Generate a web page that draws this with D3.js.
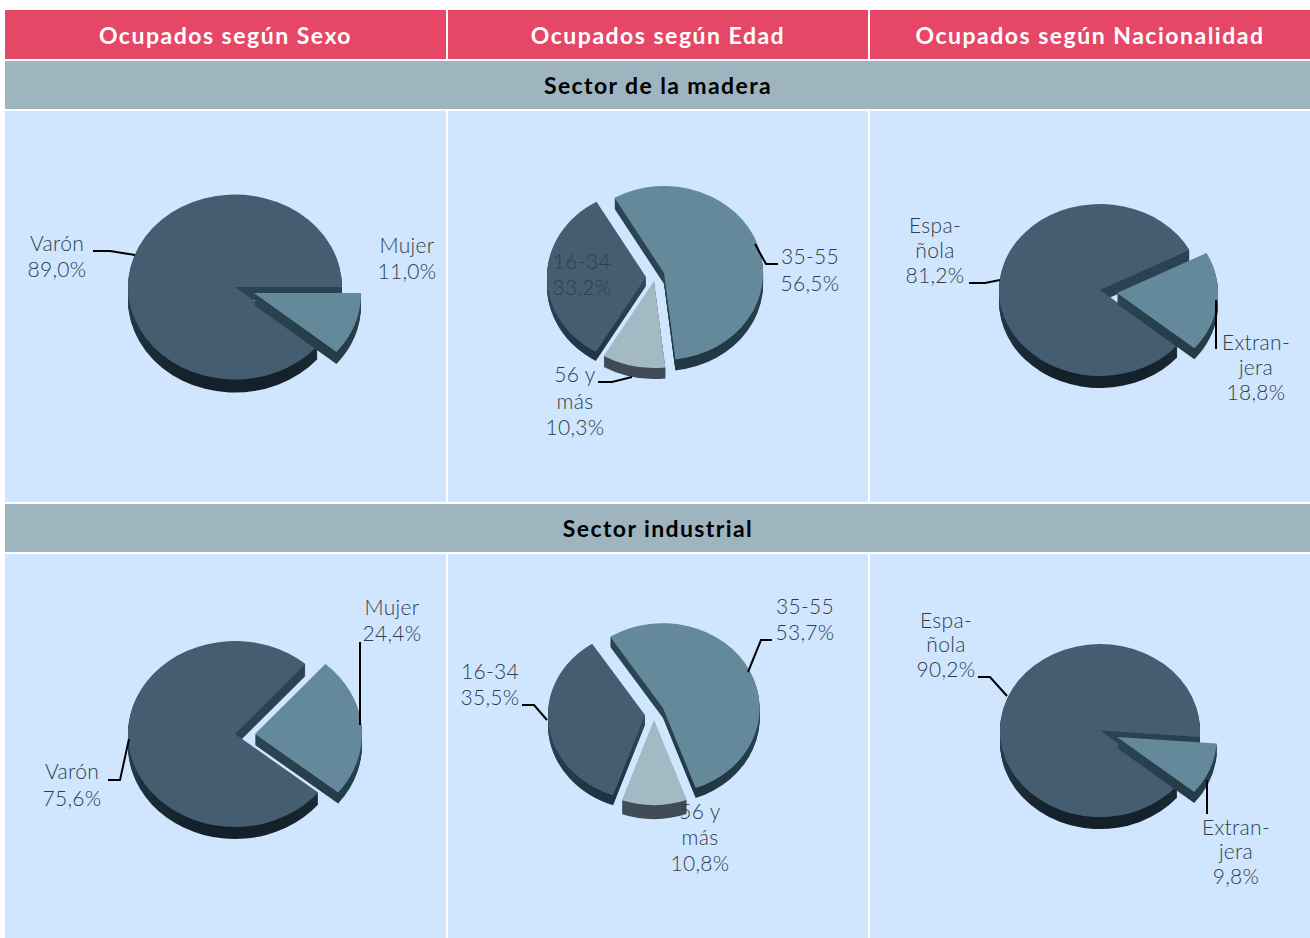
<!DOCTYPE html>
<html>
<head>
<meta charset="utf-8">
<script src="https://cdnjs.cloudflare.com/ajax/libs/d3/7.8.5/d3.min.js"></script>
<style>
  body { margin: 0; background: #fff; }
  text { font-family: Lato, "Open Sans", sans-serif; }
</style>
</head>
<body>
<div id="graphic"></div>
<script>
// column and row titles
var columnTitles = ["Ocupados según Sexo", "Ocupados según Edad", "Ocupados según Nacionalidad"];
var sectorTitles = ["Sector de la madera", "Sector industrial"];

// categories, each name split the way the labels wrap
var sexoNames = [["Varón"], ["Mujer"]];
var edadNames = [["35-55"], ["56 y", "más"], ["16-34"]];
var nacionalidadNames = [["Espa-", "ñola"], ["Extran-", "jera"]];

// values (%)
var sexoMadera = [89.0, 11.0];
var edadMadera = [56.5, 10.3, 33.2];
var nacionalidadMadera = [81.2, 18.8];
var sexoIndustria = [75.6, 24.4];
var edadIndustria = [53.7, 10.8, 35.5];
var nacionalidadIndustria = [90.2, 9.8];

// colours by role, side goes from the level of the centre to the rim
var dark = {id: "dark", top: "#445d71", side: ["#2b4252", "#14212a"]};
var teal = {id: "teal", top: "#64899b", side: ["#2a4451", "#213843"]};
var pale = {id: "pale", top: "#a3bac4", side: ["#3f4c55", "#3f4c55"]};
var darkEdad = {id: "darkEdad", top: "#445d71", side: ["#2f4758", "#1e3342"]};

// how each pie sits on the page: start angle in degrees, radii, the centre
// and depth of each slice and the order the slices get painted in
var pies = [
  {names: sexoNames, values: sexoMadera, start: 129.6, rx: 107, ry: 92.5,
   centers: [[235, 287], [254, 293]], depths: [13, 12], colors: [dark, teal], order: [0, 1],
   labels: [{x: 57, y: [244, 270]}, {x: 407, y: [246, 272]}],
   leaders: [[[93, 251], [110, 251], [135, 255]]]},
  {names: edadNames, values: edadMadera, start: -30, rx: 99, ry: 87,
   centers: [[664, 273], [654, 281], [646, 277]], depths: [11, 11, 9], colors: [teal, pale, darkEdad], order: [0, 2, 1],
   labels: [{x: 810, y: [257, 284]}, {x: 575, y: [375, 402, 428]}, {x: 582, y: [262, 288], ink: "#2e3f4c"}],
   leaders: [[[755, 244], [766, 264], [778, 264]], [[598, 382], [612, 382], [632, 377]]]},
  {names: nacionalidadNames, values: nacionalidadMadera, start: 130, rx: 101, ry: 86,
   centers: [[1100, 290], [1117, 293]], depths: [12, 11], colors: [dark, teal], order: [0, 1],
   labels: [{x: 935, y: [226, 251, 276]}, {x: 1256, y: [343, 368, 393]}],
   leaders: [[[969, 283], [985, 283], [1000, 280]], [[1216, 300], [1216, 349]]]},
  {names: sexoNames, values: sexoIndustria, start: 129, rx: 107, ry: 93,
   centers: [[235, 734], [255, 734]], depths: [12, 11], colors: [dark, teal], order: [0, 1],
   labels: [{x: 72, y: [772, 799]}, {x: 392, y: [608, 634]}],
   leaders: [[[108, 780], [120, 780], [129, 739]], [[360, 725], [360, 642]]]},
  {names: edadNames, values: edadIndustria, start: -33, rx: 97, ry: 85,
   centers: [[663, 708], [654, 720], [645, 715]], depths: [10, 14, 10], colors: [teal, pale, darkEdad], order: [0, 2, 1],
   labels: [{x: 805, y: [607, 633]}, {x: 700, y: [812, 838, 864]}, {x: 490, y: [672, 698]}],
   leaders: [[[748, 672], [761, 640], [772, 640]], [[522, 705], [534, 705], [547, 720]]]},
  {names: nacionalidadNames, values: nacionalidadIndustria, start: 129.5, rx: 100, ry: 86.5,
   centers: [[1100, 730.5], [1117, 737]], depths: [12, 11], colors: [dark, teal], order: [0, 1],
   labels: [{x: 946, y: [621, 645, 670]}, {x: 1236, y: [828, 852, 877]}],
   leaders: [[[978, 677], [990, 677], [1007, 696]], [[1207, 780], [1207, 814]]]}
];

var columns = [{x: 5, w: 441}, {x: 448, w: 420}, {x: 870, w: 440}];
var fullWidth = 1305;

var svg = d3.select("#graphic").append("svg")
    .attr("width", 1310)
    .attr("height", 938)
    .style("display", "block");

// gradients for the sides, in the unit space of the arc
var defs = svg.append("defs");
[dark, teal, pale, darkEdad].forEach(function(c) {
  var grad = defs.append("linearGradient")
      .attr("id", "side-" + c.id)
      .attr("gradientUnits", "userSpaceOnUse")
      .attr("x1", 0).attr("y1", 0)
      .attr("x2", 0).attr("y2", 0.9);
  grad.append("stop").attr("offset", 0).attr("stop-color", c.side[0]);
  grad.append("stop").attr("offset", 1).attr("stop-color", c.side[1]);
});

// header row
svg.selectAll("rect.head")
    .data(columnTitles)
  .enter().append("rect")
    .attr("class", "head")
    .attr("x", function(d, i) { return columns[i].x; })
    .attr("y", 10)
    .attr("width", function(d, i) { return columns[i].w; })
    .attr("height", 49)
    .style("fill", "#e64767");

svg.selectAll("text.head")
    .data(columnTitles)
  .enter().append("text")
    .attr("class", "head")
    .attr("x", function(d, i) { return columns[i].x + columns[i].w / 2; })
    .attr("y", 44)
    .attr("text-anchor", "middle")
    .style("font-size", "23px")
    .style("font-weight", 700)
    .style("letter-spacing", "1.5px")
    .style("fill", "#fff")
    .text(function(d) { return d; });

// sector bands and the light blue cells below them
var rows = [{band: 61, cell: 111, h: 391}, {band: 504, cell: 554, h: 384}];

rows.forEach(function(r, i) {
  svg.append("rect")
      .attr("x", 5).attr("y", r.band)
      .attr("width", fullWidth).attr("height", 48)
      .style("fill", "#9eb5c0");
  svg.append("text")
      .attr("x", 658).attr("y", r.band + 33)
      .attr("text-anchor", "middle")
      .style("font-size", "23px")
      .style("font-weight", 700)
      .style("letter-spacing", "1.4px")
      .style("fill", "#000")
      .text(sectorTitles[i]);
  svg.selectAll(null)
      .data(columns)
    .enter().append("rect")
      .attr("x", function(d) { return d.x; })
      .attr("y", r.cell)
      .attr("width", function(d) { return d.w; })
      .attr("height", r.h)
      .style("fill", "#d0e6fe");
});

// unit radius arc, stretched into an ellipse by the transform
var arc = d3.arc().innerRadius(0).outerRadius(1);
var line = d3.line();
var percent = d3.format(".1f");

pies.forEach(function(p) {
  var toRad = Math.PI / 180;
  var slices = d3.pie().sort(null)
      .startAngle(p.start * toRad)
      .endAngle((p.start + 360) * toRad)(p.values);

  var g = svg.append("g");

  p.order.forEach(function(i) {
    var c = p.centers[i];
    // side of the slice: same arc repeated downwards, then the top face
    g.selectAll(null)
        .data(d3.range(p.depths[i], 0, -1))
      .enter().append("path")
        .attr("d", arc(slices[i]))
        .attr("transform", function(d) {
          return "translate(" + c[0] + "," + (c[1] + d) + ") scale(" + p.rx + "," + p.ry + ")";
        })
        .style("fill", "url(#side-" + p.colors[i].id + ")");
    g.append("path")
        .attr("d", arc(slices[i]))
        .attr("transform", "translate(" + c[0] + "," + c[1] + ") scale(" + p.rx + "," + p.ry + ")")
        .style("fill", p.colors[i].top);
  });

  // leader lines
  g.selectAll("path.leader")
      .data(p.leaders)
    .enter().append("path")
      .attr("class", "leader")
      .attr("d", function(d) { return line(d); })
      .style("fill", "none")
      .style("stroke", "#000")
      .style("stroke-width", 2);

  // labels
  p.labels.forEach(function(l, i) {
    var lines = p.names[i].concat([percent(p.values[i]).replace(".", ",") + "%"]);
    g.selectAll(null)
        .data(lines)
      .enter().append("text")
        .attr("x", l.x)
        .attr("y", function(d, k) { return l.y[k] + 7; })
        .attr("text-anchor", "middle")
        .style("font-size", "21px")
        .style("font-weight", 300)
        .style("letter-spacing", "0.3px")
        .style("fill", l.ink || "#2f3e4a")
        .text(function(d) { return d; });
  });
});
</script>
</body>
</html>
